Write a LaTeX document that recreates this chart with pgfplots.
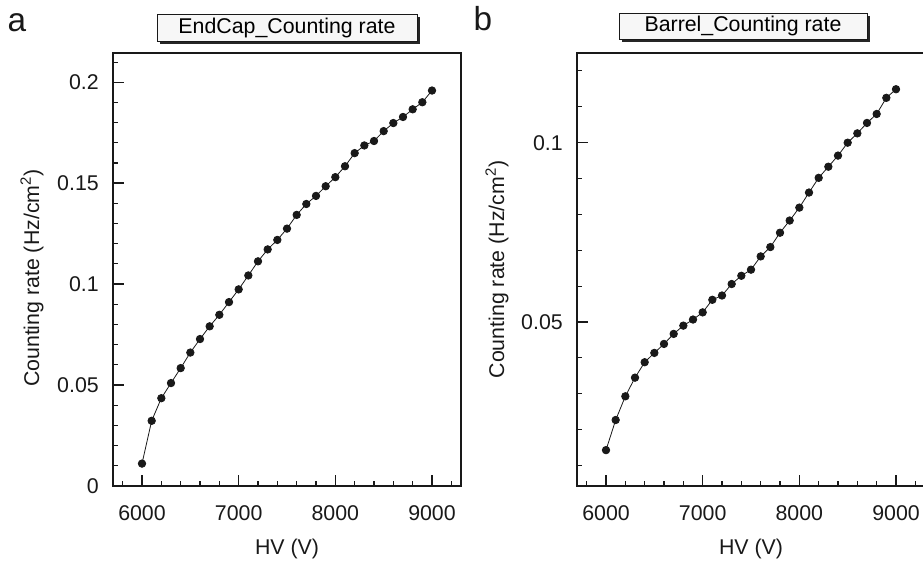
\documentclass[border=0pt]{standalone}
\usepackage{fontspec}
\setmainfont{Liberation Sans}
\usepackage{pgfplots}
\usepackage{pgfplotstable}
\pgfplotsset{compat=1.18}

\pgfplotstableread{
hv rate
6000 0.0111
6100 0.0323
6200 0.0435
6300 0.0510
6400 0.0584
6500 0.0661
6600 0.0728
6700 0.0791
6800 0.0848
6900 0.0911
7000 0.0974
7100 0.1043
7200 0.1113
7300 0.1172
7400 0.1219
7500 0.1275
7600 0.1343
7700 0.1397
7800 0.1437
7900 0.1485
8000 0.1530
8100 0.1584
8200 0.1649
8300 0.1687
8400 0.1709
8500 0.1758
8600 0.1798
8700 0.1828
8800 0.1866
8900 0.1901
9000 0.1959
}\endcapdata

\pgfplotstableread{
hv rate
6000 0.0143
6100 0.0227
6200 0.0293
6300 0.0345
6400 0.0388
6500 0.0414
6600 0.0439
6700 0.0467
6800 0.0490
6900 0.0507
7000 0.0527
7100 0.0562
7200 0.0574
7300 0.0606
7400 0.0629
7500 0.0646
7600 0.0683
7700 0.0709
7800 0.0749
7900 0.0783
8000 0.0819
8100 0.0861
8200 0.0902
8300 0.0933
8400 0.0964
8500 0.1000
8600 0.1026
8700 0.1055
8800 0.1080
8900 0.1125
9000 0.1149
}\barreldata

\newcommand{\bigf}{\fontsize{16}{18}\selectfont}

\pgfplotsset{
  myaxis/.style={
    scale only axis, width=261pt, height=324.75pt,
    xmin=5700, xmax=9300,
    axis line style={line width=1.5pt, black!90},
    tick align=inside, xtick pos=bottom, ytick pos=left,
    xtick={6000,7000,8000,9000}, xticklabels={6000,7000,8000,9000},
    minor xtick={5800,6200,6400,6600,6800,7200,7400,7600,7800,8200,8400,8600,8800,9200},
    major tick length=8.5pt, minor tick length=4pt,
    every major tick/.append style={line width=1.1pt, black!90},
    every minor tick/.append style={line width=0.8pt, black!90},
    /pgf/number format/assume math mode=true,
    tick label style={font=\bigf, black!90},
    xticklabel style={inner sep=0pt, anchor=north, yshift=-14.6pt},
    yticklabel style={inner sep=0pt, anchor=east, xshift=-10.5pt},
    label style={font=\bigf, black!90},
    xlabel={HV (V)},
    xlabel style={at={(axis description cs:0.5,0)}, anchor=north, inner sep=0pt, yshift=-39.5pt},
    ylabel={Counting rate (Hz/cm\textsuperscript{2})},
  },
  myplot/.style={black!90, line width=0.6pt, mark=*, mark size=2.8pt,
    mark options={fill=black!90, draw=none}},
}

\begin{document}
\begin{tikzpicture}
\useasboundingbox (0,0) rectangle (692.25pt,420pt);

% left panel
\begin{axis}[myaxis,
  at={(84.75pt,380.25pt)}, anchor=north west,
  ymin=0, ymax=0.2145,
  ytick={0,0.05,0.1,0.15,0.2}, yticklabels={0,0.05,0.1,0.15,0.2},
  minor ytick={0.01,0.02,0.03,0.04,0.06,0.07,0.08,0.09,0.11,0.12,0.13,0.14,0.16,0.17,0.18,0.19,0.21},
  ylabel style={at={(axis description cs:-0.2328,0.48)}, anchor=center},
]
\addplot[myplot] table[x=hv, y=rate] {\endcapdata};
\end{axis}

% right panel
\begin{axis}[myaxis,
  at={(432.75pt,380.25pt)}, anchor=north west,
  ymin=0.0043, ymax=0.125,
  ytick={0.05,0.1}, yticklabels={0.05,0.1},
  minor ytick={0.01,0.02,0.03,0.04,0.06,0.07,0.08,0.09,0.11,0.12},
  ylabel style={at={(axis description cs:-0.23,0.5)}, anchor=center},
]
\addplot[myplot] table[x=hv, y=rate] {\barreldata};
\end{axis}

% title boxes with shadow
\fill[black!85] (120pt,387pt) rectangle (315pt,407.25pt);
\node[draw=black!90, line width=0.6pt, fill=black!3, minimum width=195pt, minimum height=20.25pt, inner sep=0pt, font=\bigf]
  at (215.25pt,399.375pt) {EndCap\_Counting rate};
\fill[black!85] (466.5pt,388.5pt) rectangle (652.5pt,408pt);
\node[draw=black!90, line width=0.6pt, fill=black!3, minimum width=186pt, minimum height=19.5pt, inner sep=0pt, font=\bigf]
  at (557.25pt,400.5pt) {Barrel\_Counting rate};

% panel letters
\node[anchor=base west, inner sep=0pt, font=\fontsize{25}{28}\selectfont, black!90] at (5.5pt,396pt) {a};
\node[anchor=base west, inner sep=0pt, font=\fontsize{25}{28}\selectfont, black!90] at (355pt,396.75pt) {b};
\end{tikzpicture}
\end{document}
